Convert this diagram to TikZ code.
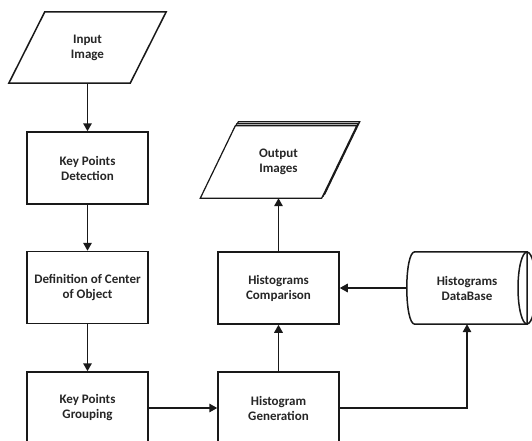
\documentclass[tikz,border=0pt]{standalone}
\usepackage{fontspec}
\setmainfont{Carlito}
\usetikzlibrary{arrows.meta}
\begin{document}
\begin{tikzpicture}[x=1pt,y=-1pt,
  line/.style={line width=1.5pt, draw=black!90, line join=miter},
  arr/.style={line, -{Triangle[length=8pt,width=8.5pt]}},
  txt/.style={font=\fontsize{13}{15}\selectfont\bfseries, align=center, text=black!85},
  box/.style={txt, line, rectangle, minimum width=121pt, minimum height=72pt, inner sep=0pt, fill=white},
  frame/.style={txt, rectangle, minimum width=121pt, minimum height=72pt, inner sep=0pt},
]
\useasboundingbox (0,0) rectangle (532,441);
\clip (0,0) rectangle (532,441);

% input parallelogram
\node[frame, minimum height=71pt] (in) at (87.5,47.5) {};
\draw[line, fill=white] ([xshift=18pt]in.north west) -- ([xshift=18pt]in.north east)
  -- ([xshift=-18pt]in.south east) -- ([xshift=-18pt]in.south west) -- cycle;
\node[txt] at (in) {Input\\Image};

% process boxes
\node[box] (kpd) at (87.5,168) {Key Points\\Detection};
\node[box] (def) at (87.5,287.5) {Definition of Center\\of Object};
\node[box] (kpg) at (87.5,408) {Key Points\\Grouping};
\node[box] (hc) at (278.5,288) {Histograms\\Comparison};
\node[box] (hg) at (278.5,408) {Histogram\\Generation};

% output: stacked parallelograms, back sheets first
\node[frame] (out) at (278.5,162) {};
\foreach \dx/\dy in {3/-4, 1.5/-2, 0/0} {
  \draw[line, line width=1.2pt, fill=white]
    ([shift={(17.5+\dx,\dy)}]out.north west) -- ([shift={(17.5+\dx,\dy)}]out.north east)
    -- ([shift={(-17.5+\dx,\dy)}]out.south east) -- ([shift={(-17.5+\dx,\dy)}]out.south west) -- cycle;
}
\node[txt] at (out) {Output\\Images};

% database cylinder
\node[frame, minimum width=120pt] (db) at (467,288) {};
\draw[line, fill=white] ([xshift=8pt]db.north west) -- ([xshift=60pt]db.north)
  -- ([xshift=60pt]db.south) -- ([xshift=8pt]db.south west)
  .. controls ([xshift=-2.7pt]db.south west) and ([xshift=-2.7pt]db.north west) .. ([xshift=8pt]db.north west) -- cycle;
\draw[line] ([xshift=60pt]db.center) ellipse [x radius=9, y radius=36];
\node[txt] at (db) {Histograms\\DataBase};

% connectors
\draw[arr] (in.south) -- (kpd.north);
\draw[arr] (kpd.south) -- (def.north);
\draw[arr] (def.south) -- (kpg.north);
\draw[arr] (kpg.east) -- (hg.west);
\draw[arr] (hg.north) -- (hc.south);
\draw[arr] (hc.north) -- (out.south);
\draw[arr] (db.west) -- (hc.east);
\draw[arr] (hg.east) -| (db.south);
\end{tikzpicture}
\end{document}
